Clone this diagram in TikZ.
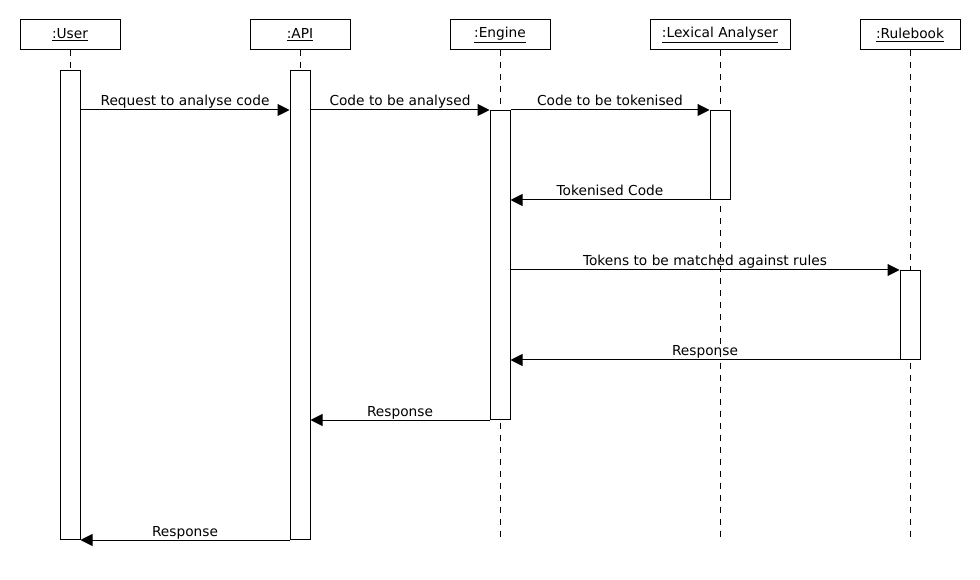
\documentclass[tikz,border=0pt]{standalone}
\usepackage{fontspec}
\setmainfont{DejaVu Sans}
\usetikzlibrary{%
  arrows.meta,%
  positioning%
}
\tikzset{>={Triangle[length=9pt,width=9pt]},%
  obj/.style={draw,minimum width=75pt,minimum height=22.5pt,inner sep=0pt},
  act/.style={draw,fill=white,minimum width=15pt,inner sep=0pt,anchor=north},
  life/.style={dash pattern=on 4.5pt off 4.5pt},
  msg/.style={->},
  msglabel/.style={anchor=base,yshift=3pt}}

\begin{document}
\begin{tikzpicture}[x=0.75pt,y=-0.75pt,line width=0.75pt,
    font=\fontsize{10.3pt}{12pt}\selectfont]
      \useasboundingbox (0,0) rectangle (980,580);
      % objects
      \node[obj] (user) at (70,35) {\underline{:User}};
      \node[obj] (api) at (300,35) {\underline{:API}};
      \node[obj] (engine) at (500,35) {\underline{:Engine}};
      \node[obj,minimum width=105pt] (lex) at (720,35) {\underline{:Lexical Analyser}};
      \node[obj] (rules) at (910,35) {\underline{:Rulebook}};
      \coordinate (bottom) at (0,540);
      \foreach \o in {user,api,engine,lex,rules}
        \draw[life] (\o.south) -- (\o.south |- bottom);
      % activations
      \node[act,minimum height=351.75pt] (useract) at (70,70) {};
      \node[act,minimum height=351.75pt] (apiact) at (300,70) {};
      \node[act,minimum height=231.75pt] (engineact) at (500,110) {};
      \node[act,minimum height=66.75pt] (lexact) at (720,110) {};
      \node[act,minimum height=66.75pt] (rulesact) at (910,270) {};
      % messages
      \coordinate (m1) at (0,110);
      \coordinate (m2) at (0,200);
      \coordinate (m3) at (0,270);
      \coordinate (m4) at (0,360);
      \coordinate (m5) at (0,420);
      \coordinate (m6) at (0,540);
      \draw[msg] (useract.east |- m1) -- node[msglabel] {Request to analyse code} (apiact.west |- m1);
      \draw[msg] (apiact.east |- m1) -- node[msglabel] {Code to be analysed} (engineact.west |- m1);
      \draw[msg] (engineact.east |- m1) -- node[msglabel] {Code to be tokenised} (lexact.west |- m1);
      \draw[msg] (lexact.west |- m2) -- node[msglabel] {Tokenised Code} (engineact.east |- m2);
      \draw[msg] (engineact.east |- m3) -- node[msglabel] {Tokens to be matched against rules} (rulesact.west |- m3);
      \draw[msg] (rulesact.west |- m4) -- node[msglabel] {Response} (engineact.east |- m4);
      \draw[msg] (engineact.west |- m5) -- node[msglabel] {Response} (apiact.east |- m5);
      \draw[msg] (apiact.west |- m6) -- node[msglabel] {Response} (useract.east |- m6);
    \end{tikzpicture}
\end{document}
